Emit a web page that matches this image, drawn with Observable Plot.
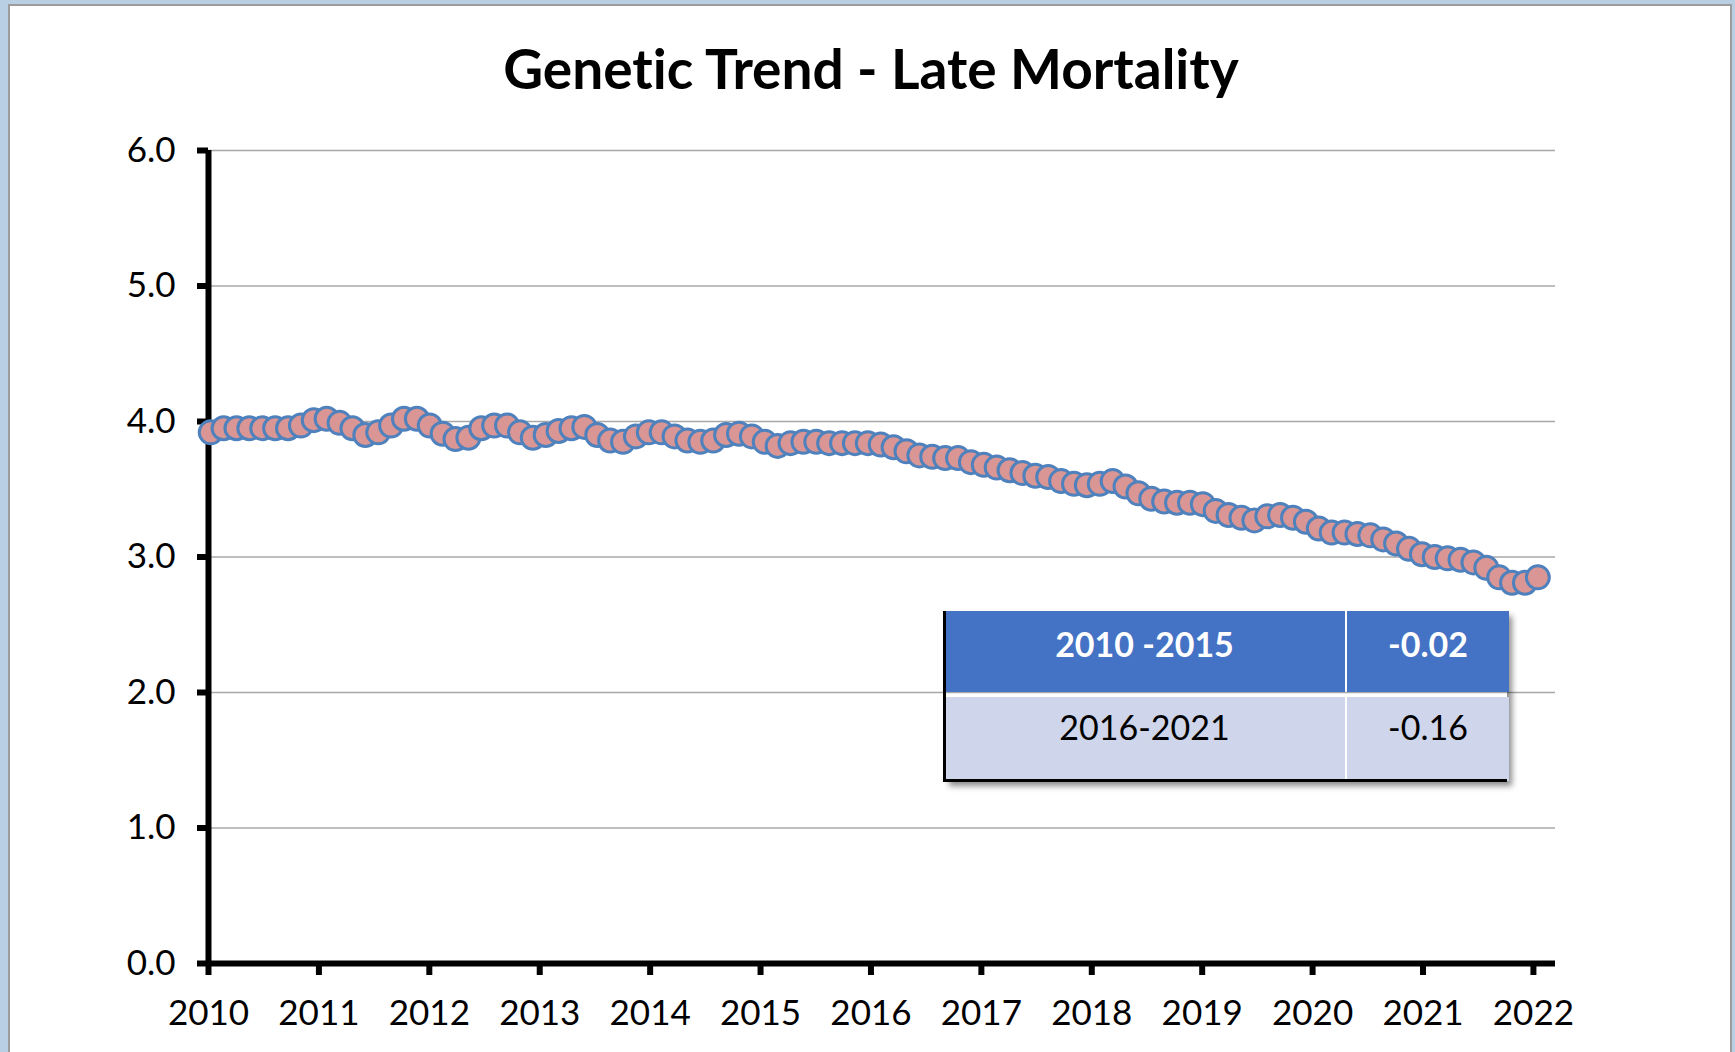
<!DOCTYPE html>
<html>
<head>
<meta charset="utf-8">
<script src="https://cdn.jsdelivr.net/npm/d3@7"></script>
<script src="https://cdn.jsdelivr.net/npm/@observablehq/plot@0.6"></script>
<style>
  html, body { margin: 0; padding: 0; width: 1735px; height: 1052px; overflow: hidden; background: #b9cfe3; }
  #frame { position: absolute; left: 8px; top: 4px; width: 1720px; height: 1060px; background: #fff;
           border-left: 2px solid #9c9c9c; border-top: 2px solid #9c9c9c; border-right: 2px solid #9c9c9c; }
  #title { position: absolute; left: 0; width: 1742px; top: 35px; text-align: center;
           font-family: Lato, "Open Sans", sans-serif; font-weight: bold; font-size: 55px; color: #000;
           font-variant-ligatures: none; line-height: 66px; }
  #chart { position: absolute; left: 0; top: 0; }
  #chart svg text { font-variant-ligatures: none; }
  #table { position: absolute; left: 944px; top: 611px; width: 563px; height: 170px;
           box-shadow: 5px 5px 6px rgba(0,0,0,0.45); font-family: Lato, "Open Sans", sans-serif; }
  .cell { position: absolute; display: flex; justify-content: center; align-items: flex-start;
          box-sizing: border-box; font-size: 34px; line-height: 40px; }
  .head { background: #4472c4; color: #fff; font-weight: bold; padding-top: 13px; }
  .body { background: #cfd5ea; color: #000; padding-top: 10px; }
</style>
</head>
<body>
<div id="frame"></div>
<div id="chart"></div>
<div id="title"></div>
<div id="table"></div>
<script>
const chartTitle = "Genetic Trend - Late Mortality";
const startYear = 2010.02;
const endYear = 2022.04;
const values = [
  3.92,3.95,3.95,3.95,3.95,3.95,3.95,3.97,4.01,4.02,
  3.99,3.95,3.90,3.92,3.97,4.02,4.02,3.97,3.91,3.87,
  3.88,3.95,3.97,3.97,3.92,3.88,3.90,3.93,3.95,3.96,
  3.90,3.86,3.85,3.89,3.92,3.92,3.89,3.86,3.85,3.86,
  3.90,3.91,3.89,3.85,3.82,3.84,3.85,3.85,3.84,3.84,
  3.84,3.84,3.83,3.81,3.78,3.75,3.74,3.73,3.73,3.70,
  3.68,3.66,3.64,3.62,3.60,3.59,3.56,3.54,3.53,3.54,
  3.56,3.52,3.47,3.43,3.41,3.40,3.40,3.39,3.34,3.31,
  3.29,3.27,3.30,3.31,3.29,3.26,3.21,3.18,3.18,3.17,
  3.16,3.13,3.10,3.06,3.02,3.00,2.99,2.98,2.96,2.92,
  2.85,2.81,2.81,2.85
];
const xTicks = [2010,2011,2012,2013,2014,2015,2016,2017,2018,2019,2020,2021,2022];
const yTicks = [0,1,2,3,4,5,6];
const tablePeriods = ["2010 -2015", "2016-2021"];
const tableSlopes = ["-0.02", "-0.16"];

const step = (endYear - startYear) / (values.length - 1);
const data = values.map((v, i) => ({year: startYear + i * step, value: v}));

document.getElementById("title").textContent = chartTitle;

const plot = Plot.plot({
  width: 1735,
  height: 1052,
  marginLeft: 208,
  marginRight: 180,
  marginTop: 150,
  marginBottom: 89,
  style: {background: "transparent", fontFamily: "Lato, 'Open Sans', sans-serif", color: "#000"},
  x: {domain: [2010, 2022.2]},
  y: {domain: [0, 6]},
  marks: [
    Plot.ruleY(yTicks.filter(d => d > 0), {stroke: "#a8a8a8", strokeWidth: 1.5}),
    Plot.axisY({ticks: yTicks, tickFormat: d => d.toFixed(1), tickSize: 11, tickPadding: 22,
                fontSize: 35, strokeWidth: 6, label: null}),
    Plot.axisX({ticks: xTicks, tickFormat: d => String(d), tickSize: 12, tickPadding: 25,
                fontSize: 35, strokeWidth: 6, label: null}),
    Plot.ruleX([2010], {y1: 0, y2: 6, stroke: "#000", strokeWidth: 6}),
    Plot.ruleY([0], {stroke: "#000", strokeWidth: 6}),
    Plot.dot(data, {x: "year", y: "value", r: 11.5, fill: "#d99694", stroke: "#4f81bd", strokeWidth: 3})
  ]
});
document.getElementById("chart").appendChild(plot);

// statistics table
const table = document.getElementById("table");
const colW = [401, 162];
const rowH = [81, 84];
const rowTop = [0, 86];
const colLeft = [0, 403];
const rows = [[tablePeriods[0], tableSlopes[0]], [tablePeriods[1], tableSlopes[1]]];
rows.forEach((r, ri) => r.forEach((txt, ci) => {
  const d = document.createElement("div");
  d.className = "cell " + (ri === 0 ? "head" : "body");
  d.style.left = colLeft[ci] + "px";
  d.style.top = rowTop[ri] + "px";
  d.style.width = colW[ci] + "px";
  d.style.height = rowH[ri] + "px";
  d.textContent = txt;
  table.appendChild(d);
}));
const lb = document.createElement("div");
lb.style.cssText = "position:absolute;left:-1px;top:0;width:3px;height:171px;background:#000;";
table.appendChild(lb);
const bb = document.createElement("div");
bb.style.cssText = "position:absolute;left:-1px;top:168px;width:564px;height:3px;background:#000;";
table.appendChild(bb);
</script>
</body>
</html>
